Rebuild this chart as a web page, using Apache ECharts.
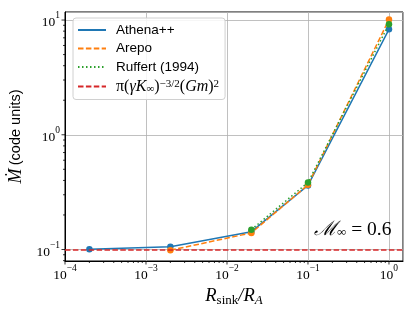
<!DOCTYPE html>
<html><head><meta charset="utf-8">
<script src="https://cdn.jsdelivr.net/npm/echarts@6/dist/echarts.min.js"></script>
<style>html,body{margin:0;padding:0;background:#fff}#c{width:415px;height:311px}</style>
</head><body><div id="c"></div>
<script>
// ---- data ----
const athenaX = [2e-4, 2e-3, 2e-2, 1e-1, 1];
const athenaY = [0.1005, 0.1055, 0.143, 0.362, 8.3];
const arepoX = [2e-3, 2e-2, 1e-1, 1];
const arepoY = [0.0985, 0.1395, 0.366, 10.1];
const ruffertX = [2e-2, 1e-1, 1];
const ruffertY = [0.149, 0.384, 9.2];
const analyticY = 0.1;
const seriesNames = ['Athena++', 'Arepo', 'Ruffert (1994)', 'analytic'];
const xMajorTicks = [1e-4, 1e-3, 1e-2, 1e-1, 1];
const yMajorTicks = [1e-1, 1, 10];
const xLim = [1e-4, 1.49];
const yLim = [0.0794, 11.75];

function minorTicks(lo, hi) {
  const out = [];
  for (let e = Math.floor(Math.log10(lo)); e <= Math.ceil(Math.log10(hi)); e++) {
    for (let m = 2; m <= 9; m++) {
      const v = m * Math.pow(10, e);
      if (v > lo && v < hi) out.push(v);
    }
  }
  return out;
}
const xMinor = minorTicks(xLim[0], xLim[1]);
const yMinor = minorTicks(yLim[0], yLim[1]);

const C = { blue: '#1f77b4', orange: '#ff7f0e', green: '#2ca02c', red: '#d62728' };
const serif = 'Liberation Serif';
const sans = 'Liberation Sans';

function zip(xs, ys) { return xs.map((x, i) => [x, ys[i]]); }
function supLabel(v) {
  const e = Math.round(Math.log10(v));
  return '{b|10}{s|' + String(e).replace('-', '−') + '}';
}
const tickRich = {
  b: { fontFamily: serif, fontSize: 13.5, color: '#000', lineHeight: 19, verticalAlign: 'bottom' },
  s: { fontFamily: serif, fontSize: 9.5, color: '#000', lineHeight: 8, verticalAlign: 'top' }
};

const chart = echarts.init(document.getElementById('c'), null, { renderer: 'canvas' });

function lineSeries(name, xs, ys, color, type, z) {
  return {
    name: name, type: 'line', data: zip(xs, ys), symbol: 'none', z: z,
    lineStyle: { color: color, width: 1.5, type: type }, itemStyle: { color: color },
    animation: false
  };
}
function dotSeries(xs, ys, color, z) {
  return {
    type: 'scatter', data: zip(xs, ys), symbol: 'circle', symbolSize: 6.5, z: z,
    itemStyle: { color: color, opacity: 1 }, animation: false, silent: true
  };
}
function tickSeries(vals, axis, len) {
  return {
    type: 'custom', coordinateSystem: 'cartesian2d', clip: false, z: 20, silent: true,
    data: vals.map(v => axis === 'x' ? [v, yLim[0]] : [xLim[0], v]),
    renderItem: function (params, api) {
      const p = api.coord([api.value(0), api.value(1)]);
      const shape = axis === 'x'
        ? { x1: p[0], y1: p[1], x2: p[0], y2: p[1] + len }
        : { x1: p[0], y1: p[1], x2: p[0] - len, y2: p[1] };
      return { type: 'line', shape: shape, style: { stroke: '#000', lineWidth: 0.8 } };
    },
    animation: false
  };
}

const option = {
  backgroundColor: '#fff',
  animation: false,
  grid: { left: 65, right: 12, top: 12, bottom: 50, show: true, borderColor: '#000', borderWidth: 1,
    backgroundColor: 'transparent', containLabel: false, outerBoundsMode: 'none' },
  legend: {
    data: seriesNames, orient: 'vertical', left: 73, top: 18,
    itemWidth: 28, itemHeight: 10, itemGap: 4.5,
    padding: [5, 6, 5, 4],
    itemStyle: { opacity: 0 },
    backgroundColor: 'rgba(255,255,255,0.85)', borderColor: '#d0d0d0', borderWidth: 1, borderRadius: 3,
    textStyle: { fontFamily: sans, fontSize: 13.5, color: '#000', lineHeight: 14, padding: [0, 0, 0, 5],
      rich: {
        t: { fontFamily: serif, fontStyle: 'italic', fontSize: 16, color: '#000', lineHeight: 16, verticalAlign: 'middle' },
        u: { fontFamily: serif, fontSize: 16, color: '#000', lineHeight: 16, verticalAlign: 'middle' },
        sb: { fontFamily: serif, fontSize: 11, color: '#000', lineHeight: 8, verticalAlign: 'bottom' },
        sp: { fontFamily: serif, fontSize: 11, color: '#000', lineHeight: 7, verticalAlign: 'top' }
      } },
    formatter: function (n) {
      if (n === 'analytic') return '{u|π(}{t|γK}{sb|∞}{u|)}{sp|−3/2}{u|(}{t|Gm}{u|)}{sp|2}';
      return n;
    },
    selectedMode: false
  },
  xAxis: {
    type: 'log', logBase: 10, min: xLim[0], max: xLim[1],
    name: '{i|R}{s|sink}{i|/R}{a|A}', nameLocation: 'middle', nameGap: 24,
    nameTextStyle: { rich: {
      i: { fontFamily: serif, fontStyle: 'italic', fontSize: 18.5, color: '#000', lineHeight: 20, verticalAlign: 'top' },
      s: { fontFamily: serif, fontSize: 13, color: '#000', lineHeight: 10, verticalAlign: 'bottom' },
      a: { fontFamily: serif, fontStyle: 'italic', fontSize: 13, color: '#000', lineHeight: 10, verticalAlign: 'bottom' }
    } },
    axisLine: { show: true, onZero: false, lineStyle: { color: '#000', width: 1 } },
    axisTick: { show: false },
    axisLabel: { showMinLabel: true, showMaxLabel: false, margin: 2, formatter: supLabel, rich: tickRich },
    splitLine: { show: true, lineStyle: { color: '#b0b0b0', width: 0.8 } },
    minorTick: { show: false }
  },
  yAxis: {
    type: 'log', logBase: 10, min: yLim[0], max: yLim[1],
    name: '{m|Ṁ} {s|(code units)}', nameLocation: 'middle', nameGap: 34, nameRotate: 90,
    nameTextStyle: { rich: {
      m: { fontFamily: serif, fontStyle: 'italic', fontSize: 18, color: '#000' },
      s: { fontFamily: sans, fontSize: 14.5, color: '#000' }
    } },
    axisLine: { show: true, onZero: false, lineStyle: { color: '#000', width: 1 } },
    axisTick: { show: false },
    axisLabel: { showMinLabel: false, showMaxLabel: false, margin: 5, formatter: supLabel, rich: tickRich },
    splitLine: { show: true, lineStyle: { color: '#b0b0b0', width: 0.8 } }
  },
  series: [
    lineSeries('Athena++', athenaX, athenaY, C.blue, 'solid', 3),
    dotSeries(athenaX, athenaY, C.blue, 3),
    lineSeries('Arepo', arepoX, arepoY, C.orange, [5.5, 2.4], 4),
    dotSeries(arepoX, arepoY, C.orange, 4),
    lineSeries('Ruffert (1994)', ruffertX, ruffertY, C.green, [1.5, 2.5], 5),
    dotSeries(ruffertX, ruffertY, C.green, 5),
    {
      name: 'analytic', type: 'line', data: [], symbol: 'none', z: 6,
      lineStyle: { color: C.red, width: 1.5, type: [5.5, 2.4] }, itemStyle: { color: C.red },
      markLine: { silent: true, symbol: 'none', label: { show: false },
        lineStyle: { color: C.red, width: 1.5, type: [5.5, 2.4] },
        data: [{ yAxis: analyticY }] },
      animation: false
    },
    tickSeries(xMajorTicks, 'x', 3.5),
    tickSeries(xMinor, 'x', 2),
    tickSeries(yMajorTicks, 'y', 3.5),
    tickSeries(yMinor, 'y', 2)
  ],
  graphic: [{
    type: 'text', left: 314, top: 220, z: 30,
    style: { text: '{m|ℳ}{s|∞}{e| = 0.6}', rich: {
      m: { fontFamily: serif, fontStyle: 'italic', fontSize: 20, fill: '#000', lineHeight: 19, verticalAlign: 'top' },
      s: { fontFamily: serif, fontSize: 13, fill: '#000', lineHeight: 10, verticalAlign: 'bottom' },
      e: { fontFamily: serif, fontSize: 19.5, fill: '#000', lineHeight: 19, verticalAlign: 'top' }
    } }
  }]
};
chart.setOption(option);
</script></body></html>
